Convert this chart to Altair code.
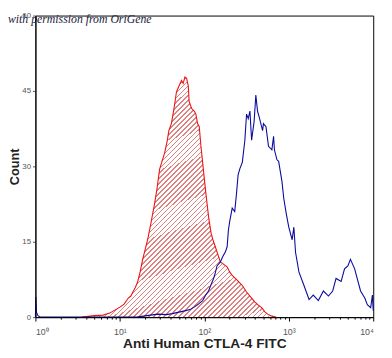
import altair as alt
import pandas as pd

# ---- data (log10 of FITC intensity, event count) ----
red_log = [0.55, 0.70, 0.80, 0.88, 0.95, 1.00, 1.05, 1.10, 1.13, 1.16, 1.18, 1.21,
           1.24, 1.27, 1.30, 1.33, 1.36, 1.38, 1.41, 1.44, 1.47, 1.49, 1.53, 1.56,
           1.58, 1.61, 1.63, 1.65, 1.67, 1.70, 1.73, 1.75, 1.77, 1.79, 1.81, 1.82,
           1.85, 1.88, 1.90, 1.92, 1.94, 1.96, 1.98, 2.00, 2.02, 2.05, 2.08, 2.10,
           2.13, 2.16, 2.19, 2.23, 2.27, 2.30, 2.33, 2.38, 2.42, 2.45, 2.50, 2.56,
           2.60, 2.64, 2.68, 2.72, 2.75, 2.80, 2.85]
red_count = [0, 0.3, 0.4, 0.8, 1.5, 2.0, 2.6, 3.8, 4.2, 5.2, 5.8, 7.0,
             9.0, 11.5, 13.5, 15.5, 18.0, 19.8, 22.5, 25.6, 29.4, 30.5, 32.7, 35.0,
             37.1, 38.5, 40.4, 42.5, 44.8, 46.0, 47.1, 46.5, 47.8, 47.5, 46.0, 42.9,
             41.5, 41.0, 40.4, 38.5, 37.9, 34.0, 30.8, 27.5, 24.4, 20.0, 16.7, 15.5,
             14.0, 12.5, 11.0, 10.5, 10.0, 9.0, 8.3, 7.5, 6.8, 6.3, 5.0, 3.8,
             3.0, 2.4, 1.9, 1.0, 0.6, 0.2, 0]

blue_log = [0.000, 0.005, 0.012, 0.03, 0.06, 1.20, 1.32, 1.45, 1.55, 1.62, 1.70,
            1.78, 1.83, 1.88, 1.93, 1.98, 2.02, 2.05, 2.08, 2.11, 2.13, 2.15, 2.19,
            2.22, 2.25, 2.27, 2.285, 2.30, 2.33, 2.36, 2.38, 2.40, 2.42, 2.45, 2.48,
            2.50, 2.52, 2.54, 2.56, 2.59, 2.61, 2.63, 2.65, 2.69, 2.70, 2.73, 2.76,
            2.80, 2.82, 2.83, 2.86, 2.88, 2.92, 2.94, 2.97, 3.00, 3.04, 3.06, 3.08,
            3.12, 3.18, 3.24, 3.29, 3.35, 3.41, 3.47, 3.52, 3.56, 3.62, 3.66, 3.70,
            3.73, 3.78, 3.81, 3.85, 3.90, 3.93, 3.97, 3.99, 4.00]
blue_count = [0, 4.0, 1.0, 0.3, 0, 0, 0.3, 0.6, 0.5, 0.7, 1.0,
              1.3, 1.5, 2.0, 2.6, 3.3, 4.5, 5.2, 6.5, 7.7, 8.8, 10.2, 11.0,
              12.1, 13.0, 14.0, 17.3, 19.0, 21.7, 21.0, 24.4, 28.3, 29.5, 30.8, 35.2,
              40.4, 39.5, 41.0, 35.2, 39.0, 44.2, 41.0, 39.8, 37.1, 38.5, 37.9, 34.0,
              33.3, 36.0, 33.3, 31.3, 31.0, 26.9, 23.7, 20.6, 17.9, 15.4, 17.9, 12.9,
              9.0, 6.3, 3.5, 4.4, 3.3, 5.2, 4.2, 5.2, 7.7, 7.1, 9.6, 10.2,
              11.5, 9.6, 7.7, 5.2, 3.8, 2.5, 1.9, 4.4, 1.3]

y_ticks = [0, 15, 30, 45, 60]
x_major = [1, 10, 100, 1000, 10000]
x_labels = ["10\u2070", "10\u00b9", "10\u00b2", "10\u00b3", "10\u2074"]
x_title = "Anti Human CTLA-4 FITC"
y_title = "Count"
annotation = "with permission from OriGene"

# ---- tables ----
red = pd.DataFrame({"fitc": [10 ** v for v in red_log], "count": red_count})
blue = pd.DataFrame({"fitc": [10 ** v for v in blue_log], "count": blue_count})
note = pd.DataFrame({"t": [annotation]})

x_tick_values = [m * 10 ** d for d in range(4) for m in range(1, 10)] + [10000]
label_expr = " : ".join(
    f"datum.value == {v} ? '{lab}'" for v, lab in zip(x_major, x_labels)
) + " : ''"
major_test = "indexof([" + ",".join(str(v) for v in x_major) + "], datum.value) >= 0"

x_axis = alt.Axis(
    title=x_title, values=x_tick_values, labelExpr=label_expr, labelOverlap=False,
    tickSize={"condition": {"test": major_test, "value": 4}, "value": 2},
    labelFontSize=9, labelColor="#555555", labelFont="Liberation Sans",
    titleFont="Liberation Sans", titleFontSize=14, titleFontWeight="bold",
    titleColor="#222222", titlePadding=0, labelPadding=7,
    domainColor="black", tickColor="black", grid=False, zindex=1,
)
y_axis = alt.Axis(
    title=y_title, values=y_ticks, tickSize=3, labelFontSize=8, labelColor="#555555",
    labelFont="Liberation Sans", titleFont="Liberation Sans", titleFontSize=13,
    titleFontWeight="bold", titleColor="#222222", titlePadding=0, labelPadding=2,
    domainColor="black", tickColor="#555555", grid=False, zindex=1,
)

xenc = alt.X("fitc:Q", scale=alt.Scale(type="log", domain=[1, 10000], nice=False), axis=x_axis)
yenc = alt.Y("count:Q", scale=alt.Scale(domain=[0, 60], nice=False), axis=y_axis)

# hatch-like fill made from a striped gradient (stripes at ~45 degrees)
n_stripes = 90
stops = []
for k in range(n_stripes):
    a = k / n_stripes
    b = (k + 0.32) / n_stripes
    c = (k + 1) / n_stripes
    stops += [alt.GradientStop(offset=a, color="#c83030"),
              alt.GradientStop(offset=b, color="#c83030"),
              alt.GradientStop(offset=b, color="#ffffff"),
              alt.GradientStop(offset=c, color="#ffffff")]
hatch = alt.Gradient(gradient="linear", stops=stops, x1=0, y1=0, x2=0.9, y2=1.125)

red_area = alt.Chart(red).mark_area(fill=hatch, opacity=0.6, interpolate="linear").encode(x=xenc, y=yenc)
red_line = alt.Chart(red).mark_line(color="#ee1111", strokeWidth=1.1).encode(x=xenc, y=yenc)
blue_line = alt.Chart(blue).mark_line(color="#0a0a9e", strokeWidth=1.1).encode(x=xenc, y=yenc)
text = alt.Chart(note).mark_text(
    align="left", baseline="middle", font="Liberation Serif", fontStyle="italic",
    fontSize=12, color="#1a1a40",
).encode(text="t:N", x=alt.value(-28), y=alt.value(4))

chart = alt.layer(red_area, red_line, blue_line, text).properties(
    width=345, height=308, autosize="none",
    padding={"left": 28, "top": 4, "right": 11, "bottom": 38},
).configure_view(stroke="black", strokeWidth=1)

chart.save("out.html", embed_options={"renderer": "svg", "actions": False})
